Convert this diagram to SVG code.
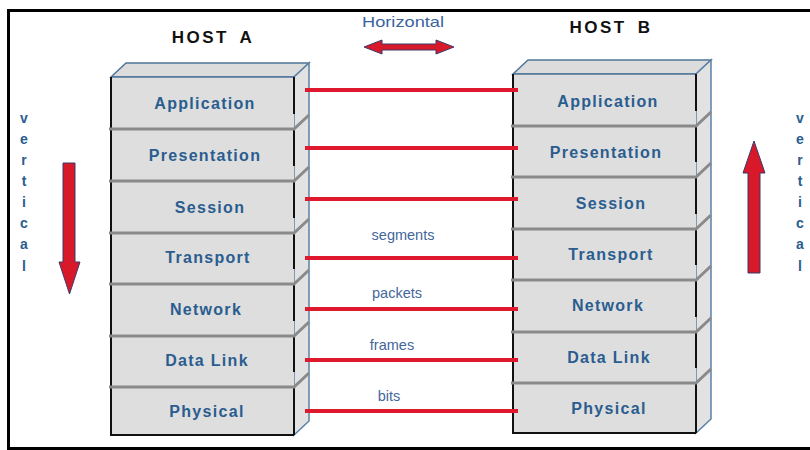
<svg xmlns="http://www.w3.org/2000/svg" width="810" height="450" viewBox="0 0 810 450">
<defs>
<style>
.frame{fill:none;stroke:#000;stroke-width:3}
.top{fill:#dcdcdc;stroke:#4f7598;stroke-width:1.5}
.side{fill:#e2e2e2;stroke:#5b82a6;stroke-width:1.5}
.front{fill:#dedede;stroke:none}
.edge{stroke:#111;stroke-width:2;fill:none}
.sep{stroke:#8a8a8a;stroke-width:3;fill:none}
.lbl{font-family:"Liberation Sans",Arial,sans-serif;font-weight:bold;font-size:16px;fill:#2a5d8f;text-anchor:middle;letter-spacing:1.3px}
.host{font-family:"Liberation Sans",Arial,sans-serif;font-weight:bold;font-size:17px;fill:#111;text-anchor:middle;letter-spacing:2.5px;word-spacing:4px}
.small{font-family:"Liberation Sans",Arial,sans-serif;font-size:14.5px;fill:#44679a;text-anchor:middle}
.vert{font-family:"Liberation Sans",Arial,sans-serif;font-weight:bold;font-size:14px;fill:#2a5d8f;text-anchor:middle}
.link{stroke:#e0182d;stroke-width:4}
.arrow{fill:#d8192a;stroke:#3b3b6b;stroke-width:1}
</style>
</defs>
<rect class="frame" x="8.5" y="10.5" width="810" height="438"/>

<text class="host" x="213" y="43">HOST A</text>
<text class="host" x="611" y="33">HOST B</text>
<text x="403" y="27" font-family="'Liberation Sans',Arial,sans-serif" font-size="15" fill="#3a64a0" text-anchor="middle" textLength="82" lengthAdjust="spacingAndGlyphs">Horizontal</text>
<polygon class="arrow" points="364,47 382,40 382,44 436,44 436,40 454,47 436,54 436,50 382,50 382,54"/>

<g id="hostA">
<polygon class="top" points="111,77 126,63 309,63 294,77"/>
<polygon class="side" points="294,77 309,63 309,421 294,435"/>
<rect class="front" x="111" y="77" width="183" height="358"/>
<line x1="111" y1="77" x2="294" y2="77" stroke="#4f7598" stroke-width="1.5"/>
<line class="edge" x1="111" y1="77" x2="111" y2="435"/>
<line class="edge" x1="110" y1="435" x2="294" y2="435"/>
<path class="edge" d="M294,77V114M294,129V166M294,181V218M294,233V269M294,284V321M294,336V372M294,387V435"/>
<path class="sep" d="M109,129H294L309,115M109,181H294L309,167M109,233H294L309,219M109,284H294L309,270M109,336H294L309,322M109,387H294L309,373"/>
<text class="lbl" x="205" y="109">Application</text>
<text class="lbl" x="205" y="161">Presentation</text>
<text class="lbl" x="210" y="213">Session</text>
<text class="lbl" x="208" y="263">Transport</text>
<text class="lbl" x="206" y="315">Network</text>
<text class="lbl" x="207" y="366">Data Link</text>
<text class="lbl" x="207" y="417">Physical</text>
</g>

<g id="hostB">
<polygon class="top" points="513,74 528,60 711,60 696,74"/>
<polygon class="side" points="696,74 711,60 711,419 696,433"/>
<rect class="front" x="513" y="74" width="183" height="359"/>
<line x1="513" y1="74" x2="696" y2="74" stroke="#4f7598" stroke-width="1.5"/>
<line class="edge" x1="513" y1="74" x2="513" y2="433"/>
<line class="edge" x1="512" y1="433" x2="696" y2="433"/>
<path class="edge" d="M696,74V111M696,126V162M696,177V214M696,229V265M696,280V317M696,332V368M696,383V433"/>
<path class="sep" d="M511,126H696L711,112M511,177H696L711,163M511,229H696L711,215M511,280H696L711,266M511,332H696L711,318M511,383H696L711,369"/>
<text class="lbl" x="608" y="107">Application</text>
<text class="lbl" x="606" y="158">Presentation</text>
<text class="lbl" x="611" y="209">Session</text>
<text class="lbl" x="611" y="260">Transport</text>
<text class="lbl" x="608" y="311">Network</text>
<text class="lbl" x="609" y="363">Data Link</text>
<text class="lbl" x="609" y="414">Physical</text>
</g>

<g id="connectors">
<line class="link" x1="305" y1="90" x2="518" y2="90"/>
<line class="link" x1="305" y1="148" x2="518" y2="148"/>
<line class="link" x1="305" y1="199" x2="518" y2="199"/>
<line class="link" x1="305" y1="258" x2="518" y2="258"/>
<line class="link" x1="305" y1="309" x2="518" y2="309"/>
<line class="link" x1="305" y1="360" x2="518" y2="360"/>
<line class="link" x1="305" y1="411" x2="518" y2="411"/>
</g>
<text class="small" x="403" y="240">segments</text>
<text class="small" x="397" y="298">packets</text>
<text class="small" x="392" y="350">frames</text>
<text class="small" x="389" y="401">bits</text>

<g id="leftVertical">
<polygon class="arrow" points="63,163 75,163 75,262 80,262 69.5,294 59,262 63,262"/>
<text class="vert" x="24" y="123">v</text>
<text class="vert" x="24" y="144">e</text>
<text class="vert" x="24" y="165">r</text>
<text class="vert" x="24" y="186">t</text>
<text class="vert" x="24" y="207">i</text>
<text class="vert" x="24" y="228">c</text>
<text class="vert" x="24" y="249">a</text>
<text class="vert" x="24" y="271">l</text>
</g>
<g id="rightVertical">
<polygon class="arrow" points="748,273 760,273 760,173 765,173 754,141 743,173 748,173"/>
<text class="vert" x="800" y="123">v</text>
<text class="vert" x="800" y="144">e</text>
<text class="vert" x="800" y="165">r</text>
<text class="vert" x="800" y="186">t</text>
<text class="vert" x="800" y="207">i</text>
<text class="vert" x="800" y="228">c</text>
<text class="vert" x="800" y="249">a</text>
<text class="vert" x="800" y="271">l</text>
</g>
</svg>
